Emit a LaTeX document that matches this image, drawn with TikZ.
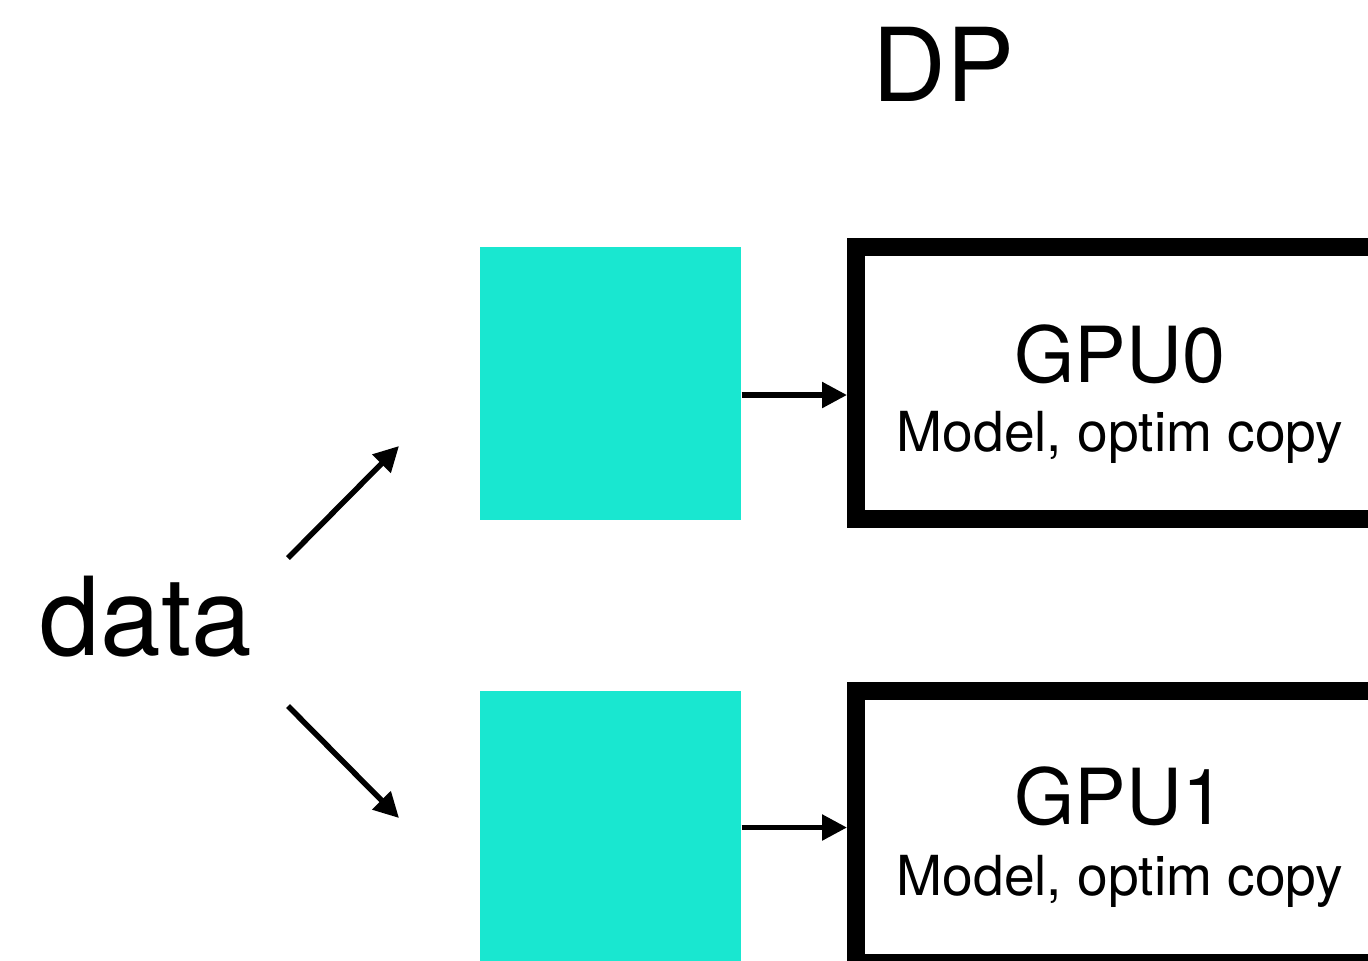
\documentclass[tikz,border=0pt]{standalone}
\usepackage{fontspec}
\setmainfont{TeX Gyre Heros}
\usetikzlibrary{arrows.meta, positioning, calc}
\definecolor{dpteal}{HTML}{19E7D0}
\tikzset{
  >={Triangle[length=2.5mm, width=2.5mm]},
  shard/.style={rectangle, fill=dpteal, draw=none, minimum width=2.61cm,
                minimum height=2.73cm, inner sep=0pt},
  gpubox/.style={rectangle, draw=black, line width=1.8mm, fill=white,
                 minimum width=5.28cm, minimum height=2.725cm},
  flow/.style={->, line width=0.55mm, draw=black},
  title/.style={font=\fontsize{29}{29}\selectfont, inner sep=0pt, anchor=base},
  big/.style={font=\fontsize{31}{31}\selectfont, inner sep=0pt, anchor=base},
  gpulbl/.style={font=\fontsize{22}{22}\selectfont, inner sep=0pt, anchor=base},
  sublbl/.style={font=\fontsize{15.7}{15.7}\selectfont, inner sep=0pt, anchor=base},
}
\begin{document}
\begin{tikzpicture}
  \clip (0,0) rectangle (13.68,-9.60);
  \fill[white] (0,0) rectangle (13.68,-9.60);
  % title
  \node[title] (dp) at (9.435,-1.01) {DP};
  % data shards
  \node[shard] (shard0) at (6.105,-3.835) {};
  \node[shard] (shard1) at (6.105,-8.275) {};
  % model replicas
  \node[gpubox] (gpu0) at (11.20,-3.8275) {};
  \node[gpubox] (gpu1) at (11.20,-8.2675) {};
  \node[gpulbl] (gpu0name) at (11.20,-3.82) {GPU0};
  \node[sublbl] (gpu0copy) at (11.20,-4.51) {Model, optim copy};
  \node[gpulbl] (gpu1name) at (11.20,-8.24) {GPU1};
  \node[sublbl] (gpu1copy) at (11.20,-8.95) {Model, optim copy};
  % data split
  \node[big] (data) at (1.46,-6.55) {data};
  \coordinate (dataup) at (2.88,-5.58);
  \coordinate (datadown) at (2.88,-7.06);
  \coordinate (split0) at (3.99,-4.46);
  \coordinate (split1) at (3.99,-8.18);
  \draw[flow] (dataup) -- (split0);
  \draw[flow] (datadown) -- (split1);
  \draw[flow] ([yshift=-1.15mm]shard0.east) -- ([yshift=-1.15mm]shard0.east -| gpu0.west);
  \draw[flow] (shard1.east) -- (shard1.east -| gpu1.west);
\end{tikzpicture}
\end{document}
